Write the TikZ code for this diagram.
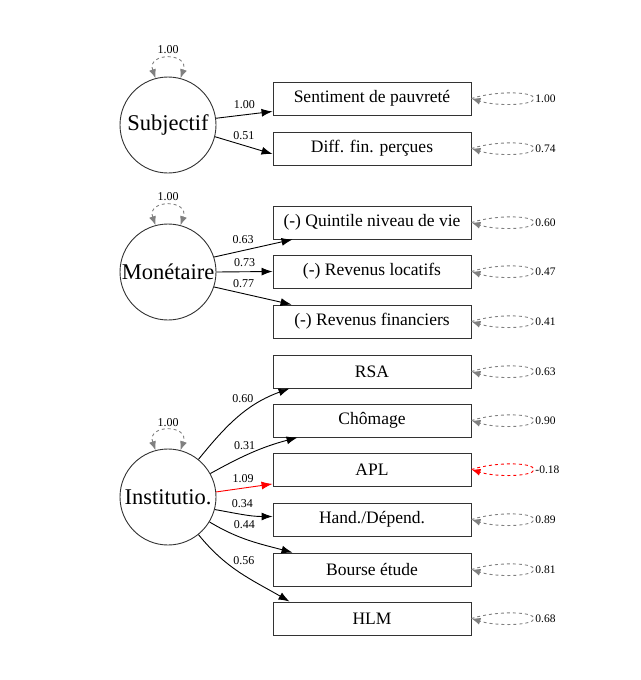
\documentclass[tikz,border=0pt]{standalone}
\usepackage{fontspec}
\setmainfont{Liberation Serif}
\usetikzlibrary{arrows.meta}

\begin{document}
\begin{tikzpicture}[x=1pt,y=1pt,line width=0.9pt,
	latent/.style={circle,draw=black!80,minimum size=96pt,inner sep=0pt,font=\fontsize{22.5}{24}\selectfont},
	manifest/.style={rectangle,draw=black!80,minimum width=198pt,minimum height=33pt,inner sep=0pt,font=\fontsize{17.5}{20}\selectfont},
	load/.style={-{Latex[length=11pt,width=8pt]}},
	coef/.style={font=\fontsize{12}{13}\selectfont,inner sep=1pt},
	varloop/.style={gray,dashed,{Latex[length=9pt,width=7pt]}-{Latex[length=9pt,width=7pt]}},
	resloop/.style={gray,dashed,-{Latex[length=9pt,width=7pt]}},
	resval/.style={font=\fontsize{11.5}{12}\selectfont,inner sep=1pt,anchor=west}]
	\useasboundingbox (0,0) rectangle (640,-680);

	\node[latent] (subj) at (168,-125) {Subjectif};
	\node[latent] (mone) at (168,-272) {Monétaire};
	\node[latent] (inst) at (168,-497) {Institutio.};

	\node[manifest] (sent) at (372,-98.5) {Sentiment de pauvreté};
	\node[manifest] (diff) at (372,-148.5) {Diff. fin. perçues};
	\node[manifest] (quin) at (372,-222.5) {(-) Quintile niveau de vie};
	\node[manifest] (loca) at (372,-271.5) {(-) Revenus locatifs};
	\node[manifest] (fina) at (372,-321.5) {(-) Revenus financiers};
	\node[manifest] (rsa) at (372,-371.5) {RSA};
	\node[manifest] (chom) at (372,-420.5) {Chômage};
	\node[manifest] (apl) at (372,-469.5) {APL};
	\node[manifest] (hand) at (372,-519.5) {Hand./Dépend.};
	\node[manifest] (bour) at (372,-569.5) {Bourse étude};
	\node[manifest] (hlm) at (372,-618.5) {HLM};

	\node[coef] (v1) at (168,-50) {1.00};
	\node[coef] (v2) at (168,-197) {1.00};
	\node[coef] (v3) at (168,-423) {1.00};
	\draw[varloop] (subj.105) .. controls +(-9,26) and +(9,26) .. (subj.75);
	\draw[varloop] (mone.105) .. controls +(-9,26) and +(9,26) .. (mone.75);
	\draw[varloop] (inst.105) .. controls +(-9,26) and +(9,26) .. (inst.75);

	\draw[load] (subj.8) -- ([yshift=4]sent.south west) node[coef,midway,above=4.5pt] {1.00};
	\draw[load] (subj.-14) -- ([yshift=-5.5]diff.west) node[coef,midway,above=4.5pt] {0.51};

	\draw[load] (mone.18) -- ([xshift=20]quin.south west) node[coef,pos=0.37,above=5pt] {0.63};
	\draw[load] (mone.east) -- (loca.west) node[coef,midway,above=3.5pt] {0.73};
	\draw[load] (mone.-18) -- ([xshift=19]fina.north west) node[coef,pos=0.38,above=5pt] {0.77};

	\draw[load] (inst.51) to[out=51,in=200] node[coef,pos=0.55,above=9pt] {0.60} ([xshift=17]rsa.south west);
	\draw[load] (inst.29) to[out=29,in=195] node[coef,pos=0.4,above=5pt] {0.31} ([xshift=25]chom.south west);
	\draw[load,red] (inst.6) -- ([yshift=2.5]apl.south west) node[coef,black,pos=0.48,above=3.5pt] {1.09};
	\draw[load] (inst.-15) to[out=-10,in=180] node[coef,pos=0.48,above=5pt] {0.34} ([yshift=3]hand.west);
	\draw[load] (inst.-31) to[out=-31,in=165] node[coef,pos=0.38,above=7pt,xshift=4pt] {0.44} ([xshift=20]bour.north west);
	\draw[load] (inst.-51) to[out=-51,in=150] node[coef,pos=0.45,above=4pt,xshift=8pt] {0.56} ([xshift=17]hlm.north west);

	\node[resval] (r1) at (534,-98.5) {1.00};
	\node[resval] (r2) at (534,-148.5) {0.74};
	\node[resval] (r3) at (534,-222.5) {0.60};
	\node[resval] (r4) at (534,-271.5) {0.47};
	\node[resval] (r5) at (534,-321.5) {0.41};
	\node[resval] (r6) at (534,-371.5) {0.63};
	\node[resval] (r7) at (534,-420.5) {0.90};
	\node[resval] (r8) at (534,-469.5) {-0.18};
	\node[resval] (r9) at (534,-519.5) {0.89};
	\node[resval] (r10) at (534,-569.5) {0.81};
	\node[resval] (r11) at (534,-618.5) {0.68};
	\foreach \m/\r in {sent/r1,diff/r2,quin/r3,loca/r4,fina/r5,rsa/r6,chom/r7,hand/r9,bour/r10,hlm/r11}
		\draw[resloop] (\m.east) .. controls +(25,8) and +(0,7) .. (\r.west) .. controls +(0,-7) and +(25,-8) .. (\m.east);
	\draw[resloop,red] (apl.east) .. controls +(25,8) and +(0,7) .. (r8.west) .. controls +(0,-7) and +(25,-8) .. (apl.east);
\end{tikzpicture}
\end{document}
